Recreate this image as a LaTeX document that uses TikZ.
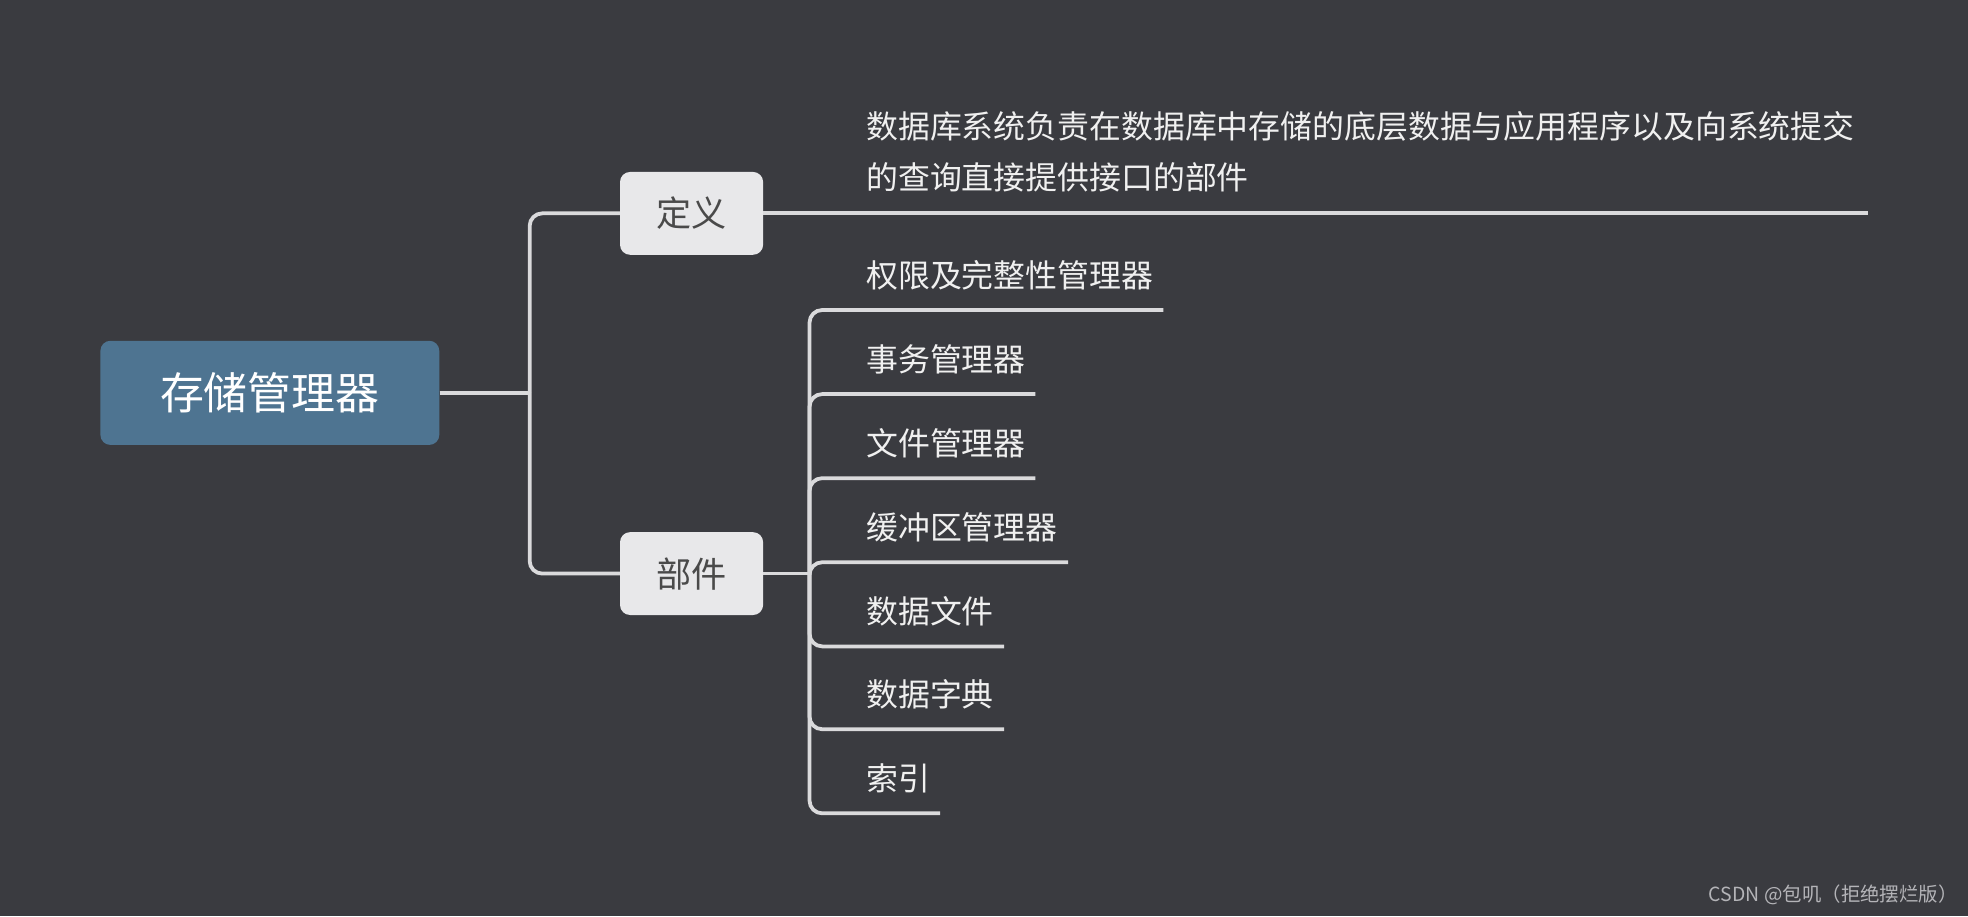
\documentclass[tikz,border=0pt]{standalone}
\usepackage{fontspec}
\setmainfont{Noto Sans CJK SC}
\definecolor{bgcol}{HTML}{3A3B40}
\definecolor{rootcol}{HTML}{4E7491}
\definecolor{topiccol}{HTML}{E8E8EA}
\definecolor{topictext}{HTML}{4A4A4A}
\definecolor{linecol}{HTML}{DADADC}
\definecolor{markcol}{HTML}{B4B4B8}
\begin{document}
\begin{tikzpicture}[x=1pt,y=-1pt]
		\tikzset{root/.style = {fill=rootcol, text=white, rounded corners=8pt, minimum width=270pt, minimum height=83pt, font=\fontsize{35}{40}\selectfont}}
		\tikzset{topic/.style = {fill=topiccol, text=topictext, rounded corners=8pt, minimum width=114pt, minimum height=66pt, font=\fontsize{28}{32}\selectfont}}
		\tikzset{leaf/.style = {anchor=west, inner sep=0pt, text=white!94!black, font=\fontsize{25.4}{30}\selectfont}}
		\tikzset{edge/.style = {draw=linecol, line width=3pt, rounded corners=10pt}}
		
		\fill[bgcol] (0,0) rectangle (1568,730);
		\useasboundingbox (0,0) rectangle (1568,730);
		
		\node[root]  (store) at ( 215, 313) {存储管理器};
		\node[topic] (def)   at ( 551, 170) {定义};
		\node[topic] (part)  at ( 551, 457) {部件};
		
		\coordinate (j1) at (422, 313);
		\coordinate (j2) at (645, 457);
		\coordinate (defend) at (1488, 170);
		
		\node[leaf, align=left, font=\fontsize{25.4}{41}\selectfont] (deftext) at (690, 121)
			{数据库系统负责在数据库中存储的底层数据与应用程序以及向系统提交\\的查询直接提供接口的部件};
		
		\draw[edge] (store.east) -- (j1);
		\draw[edge] (j1) |- (def.west);
		\draw[edge] (j1) |- (part.west);
		\draw[edge] (def.east) -- (defend);
		\draw[edge] (part.east) -- (j2);
		
		\foreach \name/\y/\xend/\txt in {auth/247/927/权限及完整性管理器, trans/314/825/事务管理器,
			file/381/825/文件管理器, buffer/448/851/缓冲区管理器, data/515/800/数据文件,
			dict/581/800/数据字典, index/648/749/索引} {
			\node[leaf] (\name) at (690, \y-28) {\txt};
			\coordinate (\name end) at (\xend, \y);
			\draw[edge] (j2) |- (\name end);
		}
		
		\node[anchor=east, inner sep=0pt, text=markcol, font=\fontsize{15.5}{18}\selectfont] (mark) at (1560, 713) {CSDN @包叽（拒绝摆烂版）};
\end{tikzpicture}
\end{document}
